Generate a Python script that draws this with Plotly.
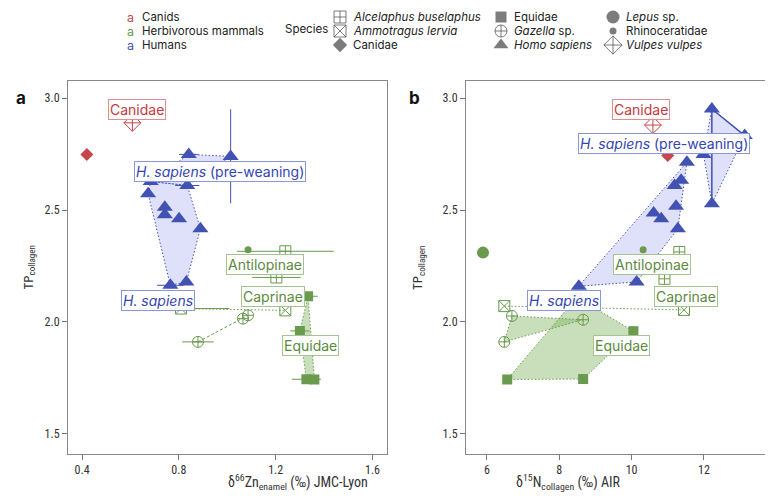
import plotly.graph_objects as go

W, H = 773, 499

# ---------------- Panel a: δ66Zn enamel vs TP collagen ----------------
a_human_x = [0.841, 1.014, 0.684, 0.835, 0.673, 0.742, 0.742, 0.801, 0.889, 0.765, 0.831]
a_human_y = [2.749, 2.740, 2.628, 2.610, 2.573, 2.513, 2.479, 2.461, 2.417, 2.164, 2.179]
a_human_xerr = [0.04, 0, 0, 0.05, 0, 0, 0, 0, 0, 0.055, 0]
a_human_yerr = [0, 0.21, 0, 0, 0, 0, 0, 0, 0, 0, 0]
a_pre_idx = [2, 0, 1, 3]                 # pre-weaning hull
a_main_idx = [2, 3, 8, 10, 9, 4]         # H. sapiens hull

a_canidae_x = [0.42]
a_canidae_y = [2.749]
a_vulpes_x = [0.608]
a_vulpes_y = [2.89]

a_rhino_x = [1.086]
a_rhino_y = [2.323]
a_alcel_x = [1.240, 1.203]
a_alcel_y = [2.316, 2.199]
a_alcel_xerr = [0.2, 0.1]
a_ammo_x = [0.809, 1.240]
a_ammo_y = [2.060, 2.052]
a_ammo_xerr = [0.2, 0]
a_gaz_x = [0.879, 1.065, 1.086]
a_gaz_y = [1.911, 2.015, 2.030]
a_gaz_xerr = [0.065, 0, 0]
a_equ_x = [1.334, 1.300, 1.327, 1.360]
a_equ_y = [2.115, 1.960, 1.744, 1.743]
a_equ_xerr = [0.04, 0.04, 0.06, 0]
a_equ_idx = [0, 3, 2, 1]

# ---------------- Panel b: δ15N collagen vs TP collagen ----------------
b_human_x = [12.22, 13.13, 11.99, 11.53, 12.22, 11.37, 11.19, 11.23, 10.61, 10.82, 11.28, 10.14, 8.54]
b_human_y = [2.952, 2.833, 2.749, 2.714, 2.528, 2.633, 2.610, 2.517, 2.487, 2.461, 2.417, 2.179, 2.160]
b_pre_idx = [0, 1, 4, 2]
b_pre_solid_idx = [1, 0, 4]
b_main_idx = [12, 3, 10, 11]

b_canidae_x = [11.0]
b_canidae_y = [2.744]
b_vulpes_x = [10.59]
b_vulpes_y = [2.88]

b_lepus_x = [5.89]
b_lepus_y = [2.31]
b_rhino_x = [10.32]
b_rhino_y = [2.323]
b_alcel_x = [11.32, 10.91]
b_alcel_y = [2.313, 2.193]
b_ammo_x = [6.48, 11.45]
b_ammo_y = [2.071, 2.054]
b_gaz_x = [6.48, 6.69, 8.66]
b_gaz_y = [1.911, 2.027, 2.010]
b_equ_x = [8.49, 10.05, 8.66, 6.56]
b_equ_y = [2.110, 1.959, 1.745, 1.743]

# axis ticks
a_xticks = [0.4, 0.8, 1.2, 1.6]
b_xticks = [6, 8, 10, 12, 14]
yticks = [1.5, 2.0, 2.5, 3.0]

# ---------------- styling ----------------
RED = "#c4474b"
RED_TXT = "#c23a3a"
GREEN = "#6a9a4e"
GREEN_TXT = "#5b8a3e"
BLUE = "#4152b3"
BLUE_TXT = "#3446b0"
BLUE_FILL = "rgba(120,130,240,0.24)"
GREEN_FILL = "rgba(120,175,85,0.40)"
DOT = "1.5px,2px"
FONT = "Inter, Lato, Noto Sans, sans-serif"
TICKFONT = "Roboto Condensed, Liberation Sans Narrow, Roboto, sans-serif"

fig = go.Figure()


def poly(xs, ys, idx, xa, ya, color, fill, dash=DOT, width=1):
    px = [xs[i] for i in idx] + [xs[idx[0]]]
    py = [ys[i] for i in idx] + [ys[idx[0]]]
    fig.add_trace(go.Scatter(x=px, y=py, mode="lines", fill="toself" if fill else None,
                             fillcolor=fill, line=dict(color=color, width=width, dash=dash),
                             xaxis=xa, yaxis=ya, hoverinfo="skip", showlegend=False))


def pts(xs, ys, xa, ya, symbol, size, color, filled=True, xerr=None, yerr=None, lw=1):
    marker = dict(symbol=symbol, size=size, color=color,
                  line=dict(color=color, width=0 if filled else lw))
    kw = {}
    if xerr is not None:
        kw["error_x"] = dict(type="data", array=xerr, color=color, thickness=1, width=0)
    if yerr is not None:
        kw["error_y"] = dict(type="data", array=yerr, color=color, thickness=1, width=0)
    fig.add_trace(go.Scatter(x=xs, y=ys, mode="markers", marker=marker, xaxis=xa, yaxis=ya,
                             showlegend=False, **kw))


# ---- panel a ----
poly(a_human_x, a_human_y, a_main_idx, "x", "y", BLUE, BLUE_FILL)
poly(a_human_x, a_human_y, a_pre_idx, "x", "y", BLUE, BLUE_FILL)
poly(a_equ_x, a_equ_y, a_equ_idx, "x", "y", GREEN, GREEN_FILL)
fig.add_trace(go.Scatter(x=a_gaz_x, y=a_gaz_y, mode="lines", line=dict(color=GREEN, width=1, dash="3px,2px"),
                         xaxis="x", yaxis="y", showlegend=False, hoverinfo="skip"))
fig.add_trace(go.Scatter(x=a_ammo_x, y=a_ammo_y, mode="lines", line=dict(color=GREEN, width=1, dash=DOT),
                         xaxis="x", yaxis="y", showlegend=False, hoverinfo="skip"))
pts(a_rhino_x, a_rhino_y, "x", "y", "circle", 7, GREEN)
pts(a_alcel_x, a_alcel_y, "x", "y", "square-cross-open", 11, GREEN, False, xerr=a_alcel_xerr)
pts(a_ammo_x, a_ammo_y, "x", "y", "square-x-open", 11, GREEN, False, xerr=a_ammo_xerr)
pts(a_gaz_x, a_gaz_y, "x", "y", "circle-cross-open", 11, GREEN, False, xerr=a_gaz_xerr)
pts(a_equ_x, a_equ_y, "x", "y", "square", 10, GREEN, xerr=a_equ_xerr)
pts(a_canidae_x, a_canidae_y, "x", "y", "diamond", 10, RED)
pts(a_vulpes_x, a_vulpes_y, "x", "y", "diamond-cross-open", 13, RED, False)
pts(a_human_x, a_human_y, "x", "y", "triangle-up", 14, BLUE, xerr=a_human_xerr, yerr=a_human_yerr)

# ---- panel b ----
poly(b_human_x, b_human_y, b_main_idx, "x2", "y2", BLUE, BLUE_FILL)
poly(b_human_x, b_human_y, b_pre_idx, "x2", "y2", BLUE, BLUE_FILL)
fig.add_trace(go.Scatter(x=[b_human_x[i] for i in b_pre_solid_idx], y=[b_human_y[i] for i in b_pre_solid_idx],
                         mode="lines", line=dict(color=BLUE, width=1.5), xaxis="x2", yaxis="y2",
                         showlegend=False, hoverinfo="skip"))
poly(b_equ_x, b_equ_y, [0, 1, 2, 3], "x2", "y2", GREEN, GREEN_FILL)
poly(b_gaz_x, b_gaz_y, [0, 1, 2], "x2", "y2", GREEN, GREEN_FILL)
fig.add_trace(go.Scatter(x=b_ammo_x, y=b_ammo_y, mode="lines", line=dict(color=GREEN, width=1, dash=DOT),
                         xaxis="x2", yaxis="y2", showlegend=False, hoverinfo="skip"))
pts(b_lepus_x, b_lepus_y, "x2", "y2", "circle", 12, GREEN)
pts(b_rhino_x, b_rhino_y, "x2", "y2", "circle", 7, GREEN)
pts(b_alcel_x, b_alcel_y, "x2", "y2", "square-cross-open", 11, GREEN, False)
pts(b_ammo_x, b_ammo_y, "x2", "y2", "square-x-open", 11, GREEN, False)
pts(b_gaz_x, b_gaz_y, "x2", "y2", "circle-cross-open", 11, GREEN, False)
pts(b_equ_x, b_equ_y, "x2", "y2", "square", 10, GREEN)
pts(b_canidae_x, b_canidae_y, "x2", "y2", "diamond", 10, RED)
pts(b_vulpes_x, b_vulpes_y, "x2", "y2", "diamond-cross-open", 13, RED, False)
pts(b_human_x, b_human_y, "x2", "y2", "triangle-up", 14, BLUE)

# ---- legend glyphs (auxiliary axes in pixel units) ----
leg_x = [332, 332, 332, 493, 493, 493, 605, 605, 605]
leg_y = [9, 23, 37, 9, 23, 37, 9, 23, 37]
leg_sym = ["square-cross-open", "square-x-open", "diamond", "square", "circle-cross-open", "triangle-up",
           "circle", "circle", "diamond-cross-open"]
leg_size = [12, 12, 11, 11, 12, 13, 13, 7, 14]
leg_txt = ["<i>Alcelaphus buselaphus</i>", "<i>Ammotragus lervia</i>", "Canidae",
           "Equidae", "<i>Gazella</i> sp.", "<i>Homo sapiens</i>",
           "<i>Lepus</i> sp.", "Rhinoceratidae", "<i>Vulpes vulpes</i>"]
GREY = "#444444"
open_sym = [s.endswith("open") for s in leg_sym]
fig.add_trace(go.Scatter(
    x=leg_x, y=leg_y, mode="markers", xaxis="x3", yaxis="y3", showlegend=False, hoverinfo="skip",
    marker=dict(symbol=leg_sym, size=leg_size, color=GREY,
                line=dict(color=GREY, width=[1 if o else 0 for o in open_sym]))))

group_txt = ["Canids", "Herbivorous mammals", "Humans"]
group_col = [RED, GREEN, BLUE]
LEGSIZE = 11.5

ann = []
for i, (t, c) in enumerate(zip(group_txt, group_col)):
    ann.append(dict(x=122, y=leg_y[i], xref="x3", yref="y3", text="a", showarrow=False, xanchor="center",
                    font=dict(family=FONT, size=12.5, color=c)))
    ann.append(dict(x=132, y=leg_y[i], xref="x3", yref="y3", text=t, showarrow=False, xanchor="left",
                    font=dict(family=FONT, size=LEGSIZE, color="#222")))
ann.append(dict(x=275, y=21, xref="x3", yref="y3", text="Species", showarrow=False, xanchor="left",
                font=dict(family=FONT, size=LEGSIZE, color="#222")))
for gx, gy, t in zip(leg_x, leg_y, leg_txt):
    ann.append(dict(x=gx + 11, y=gy, xref="x3", yref="y3", text=t, showarrow=False, xanchor="left",
                    font=dict(family=FONT, size=LEGSIZE, color="#222")))


def label(x, y, text, xr, yr, color, border):
    ann.append(dict(x=x, y=y, xref=xr, yref=yr, text=text, showarrow=False,
                    font=dict(family=FONT, size=14, color=color), bgcolor="rgba(255,255,255,0.92)",
                    bordercolor=border, borderwidth=1, borderpad=1))


label(0.627, 2.95, "Canidae", "x", "y", RED_TXT, "#dd8f8f")
label(0.970, 2.674, "<i>H. sapiens</i> (pre-weaning)", "x", "y", BLUE_TXT, "#8a96d8")
label(0.714, 2.098, "<i>H. sapiens</i>", "x", "y", BLUE_TXT, "#8a96d8")
label(1.156, 2.259, "Antilopinae", "x", "y", GREEN_TXT, "#a6c493")
label(1.189, 2.116, "Caprinae", "x", "y", GREEN_TXT, "#a6c493")
label(1.346, 1.897, "Equidae", "x", "y", GREEN_TXT, "#a6c493")

label(10.27, 2.95, "Canidae", "x2", "y2", RED_TXT, "#dd8f8f")
label(10.90, 2.797, "<i>H. sapiens</i> (pre-weaning)", "x2", "y2", BLUE_TXT, "#8a96d8")
label(8.12, 2.098, "<i>H. sapiens</i>", "x2", "y2", BLUE_TXT, "#8a96d8")
label(10.56, 2.256, "Antilopinae", "x2", "y2", GREEN_TXT, "#a6c493")
label(11.51, 2.116, "Caprinae", "x2", "y2", GREEN_TXT, "#a6c493")
label(9.73, 1.894, "Equidae", "x2", "y2", GREEN_TXT, "#a6c493")

# panel letters & axis titles (paper coords from pixel positions)
def P(px, py):
    return px / W, 1 - py / H

for letter, px in (("a", 6), ("b", 406)):
    x, y = P(px, 78)
    ann.append(dict(x=x, y=y, xref="paper", yref="paper", text=f"<b>{letter}</b>", showarrow=False,
                    font=dict(family=FONT, size=17, color="#111")))
for px in (10, 410):
    x, y = P(px, 260)
    ann.append(dict(x=x, y=y, xref="paper", yref="paper", text="TP<sub>collagen</sub>", showarrow=False,
                    textangle=-90, font=dict(family=TICKFONT, size=13, color="#333")))
x, y = P(218, 486)
ann.append(dict(x=x, y=y, xref="paper", yref="paper", showarrow=False,
                text="δ<sup>66</sup>Zn<sub>enamel</sub> (‰) JMC-Lyon",
                font=dict(family=TICKFONT, size=14, color="#333")))
x, y = P(614, 486)
ann.append(dict(x=x, y=y, xref="paper", yref="paper", showarrow=False,
                text="δ<sup>15</sup>N<sub>collagen</sub> (‰) AIR",
                font=dict(family=TICKFONT, size=14, color="#333")))

ydom = [1 - 446 / H, 1 - 73 / H]
axis_common = dict(showline=True, mirror=True, linecolor="#888", linewidth=1, ticks="outside",
                   ticklen=5, tickcolor="#777", showgrid=False, zeroline=False,
                   tickfont=dict(family=TICKFONT, size=12, color="#333"))

fig.update_layout(
    width=W, height=H, margin=dict(l=0, r=0, t=0, b=0),
    paper_bgcolor="white", plot_bgcolor="white", showlegend=False,
    xaxis=dict(domain=[60 / W, 378.5 / W], range=[0.342, 1.658], tickvals=a_xticks,
               ticktext=[f"{v:.1f}" for v in a_xticks], anchor="y", **axis_common),
    yaxis=dict(domain=ydom, range=[1.41, 3.077], tickvals=yticks,
               ticktext=[f"{v:.1f}" for v in yticks], anchor="x", **axis_common),
    xaxis2=dict(domain=[458 / W, 770 / W], range=[5.42, 14.05], tickvals=b_xticks,
                ticktext=[str(v) for v in b_xticks], anchor="y2", **axis_common),
    yaxis2=dict(domain=ydom, range=[1.41, 3.077], tickvals=yticks,
                ticktext=[f"{v:.1f}" for v in yticks], anchor="x2", **axis_common),
    xaxis3=dict(domain=[0, 1], range=[0, W], visible=False, fixedrange=True),
    yaxis3=dict(domain=[1 - 60 / H, 1], range=[60, 0], visible=False, fixedrange=True, anchor="x3"),
    annotations=ann,
)

fig.write_html("out.html")
